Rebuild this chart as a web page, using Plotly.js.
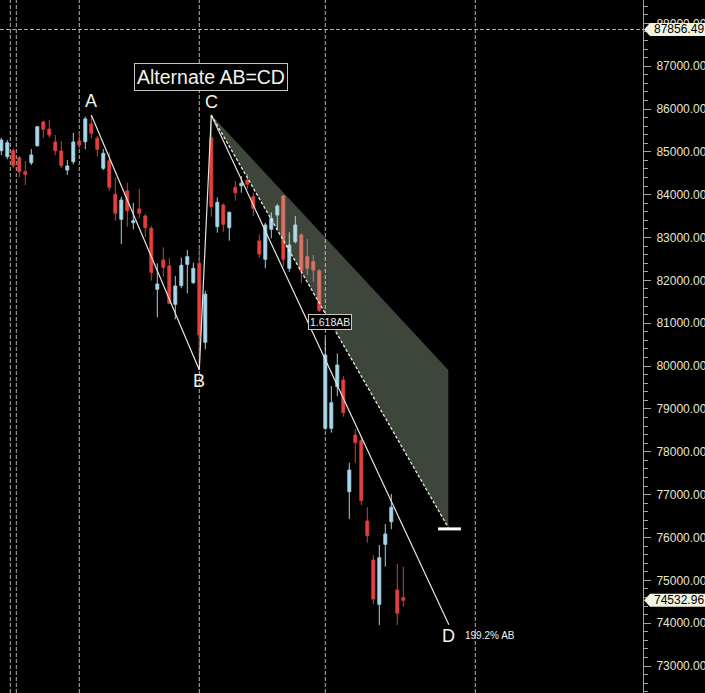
<!DOCTYPE html>
<html>
<head>
<meta charset="utf-8">
<script src="https://cdn.plot.ly/plotly-3.0.1.min.js"></script>
<style>html,body{margin:0;padding:0;background:#000;}#chart{width:705px;height:693px;}</style>
</head>
<body>
<div id="chart"></div>
<script>
// ---- candle data ----
const openP  = [85027,84887,85027,84863,84537,84747,85143,85697,85533,85230,85020,84576,84770,85253,85237,85650,85316,84616,84793,84009,83426,84086,83346,83666,83503,83215,81792,82476,82336,81442,81876,82375,81946,82399,80555,85330,83253,83759,83230,84172,84210,84343,83953,82919,82492,83192,83526,83969,82282,82903,83059,82553,82436,82226,78548,78548,79519,79675,77068,78391,78258,76384,75474,74440,75840,76367,74773,74594];
const highP  = [85330,85276,85083,84903,84786,85066,85603,85727,85743,85393,85253,84810,85447,85470,85820,85860,85370,85066,84985,84406,83953,84280,83813,84133,83549,83269,82399,82772,82515,82102,82529,82709,82413,82749,81752,85860,83939,83799,83603,84320,84436,84483,84046,83076,83346,83589,83783,83993,83122,83503,83099,82966,82592,82259,80648,79535,80298,79768,77745,78531,78368,76704,75590,75824,76314,77014,75380,75317];
const lowP   = [84926,84826,84616,84406,84226,84693,85120,85330,85330,84926,84616,84460,84709,85083,85059,85316,84887,84576,84093,83393,82849,83253,83192,83449,83006,81993,81138,82086,81442,81092,81815,81698,81916,79910,80391,83486,83113,83136,82926,83860,84046,84126,83503,82529,82282,82982,83199,82319,82203,82865,81932,82126,81969,81269,78508,78445,79301,78818,76431,77745,76757,75878,74447,73957,75317,76190,73957,74383];
const closeP = [85276,85213,84677,84537,84476,84926,85587,85526,85393,85027,84677,84670,85230,85160,85767,85433,85059,84966,84172,83566,83876,83626,83393,83566,83230,82189,81916,82305,81465,81869,82352,82553,82282,80725,81675,83720,83822,83309,83589,84046,84266,84243,83682,82616,83293,83449,83736,82492,82826,83293,82226,82282,82242,81292,80258,79145,80025,78912,77574,78211,76858,76041,74563,75527,76081,76704,74230,74533];

// ---- pattern (A, B, C, D) ----
const patternLabels = ["A", "B", "C", "D"];
const patternX = [15, 33, 35, 74.6];
const patternY = [85860, 79910, 85860, 73960];

// projection zone (C -> target range)
const zoneX = [35, 74.5, 74.5];
const zoneY = [85860, 79910, 76230];
const targetBarX = [72.8, 76.6];
const targetBarY = 76200;

// labels
const titleText = "Alternate AB=CD";
const fibLabel = "1.618AB";
const fibLabelX = 54.7;
const fibLabelY = 81040;
const dLabel = "199.2% AB";

// price tags
const highTag = 87856.49;
const lastTag = 74532.96;

// period separators (candle positions)
const separators = [1.5, 2.5, 13, 33, 54, 79];

// y ticks
const yTickVals = [73000,74000,75000,76000,77000,78000,79000,80000,81000,82000,83000,84000,85000,86000,87000,88000];

const idx = openP.map((_, i) => i);

const FONT = "Liberation Sans, Arial, sans-serif";
const pxPerUnit = 557 / 13000;        // vertical scale
const unitsPerPx = 1 / pxPerUnit;
const plotW = 643;

const traces = [
  {
    type: "candlestick",
    x: idx, open: openP, high: highP, low: lowP, close: closeP,
    increasing: { line: { color: "#9fcde4", width: 1 }, fillcolor: "#add8e6" },
    decreasing: { line: { color: "#d93b3b", width: 1 }, fillcolor: "#e2443f" },
    whiskerwidth: 0,
    hoverinfo: "skip",
    showlegend: false
  },
  {
    type: "scatter", mode: "lines",
    x: patternX, y: patternY,
    line: { color: "#e6e6dc", width: 1.2 },
    hoverinfo: "skip", showlegend: false
  }
];

const dashCol = "#b4b4aa";
const shapes = [];
separators.forEach(s => shapes.push({
  type: "line", xref: "x", yref: "paper", x0: s, x1: s, y0: 0, y1: 1,
  line: { color: dashCol, width: 1, dash: "4px,2px" }, layer: "below"
}));
shapes.push({
  type: "line", xref: "paper", yref: "y", x0: 0, x1: 1, y0: highTag, y1: highTag,
  line: { color: dashCol, width: 1, dash: "4px,2px" }, layer: "below"
});
// shaded zone
shapes.push({
  type: "path", xref: "x", yref: "y",
  path: `M ${zoneX[0]},${zoneY[0]} L ${zoneX[1]},${zoneY[1]} L ${zoneX[2]},${zoneY[2]} Z`,
  fillcolor: "rgba(205,232,195,0.30)", line: { width: 0 }, layer: "above"
});
// dashed edge
shapes.push({
  type: "line", xref: "x", yref: "y", x0: zoneX[0], y0: zoneY[0], x1: zoneX[2], y1: zoneY[2],
  line: { color: "#ecece4", width: 1.3, dash: "3px,2px" }, layer: "above"
});
// target bar
shapes.push({
  type: "line", xref: "x", yref: "y", x0: targetBarX[0], x1: targetBarX[1], y0: targetBarY, y1: targetBarY,
  line: { color: "#ffffff", width: 3 }, layer: "above"
});
// price tags
function tagPath(price) {
  const h = 6.5 * unitsPerPx;
  const tip = 644 / plotW, sh = 650 / plotW, rt = 706 / plotW;
  return `M ${tip},${price} L ${sh},${price + h} L ${rt},${price + h} L ${rt},${price - h} L ${sh},${price - h} Z`;
}
[highTag, lastTag].forEach(p => shapes.push({
  type: "path", xref: "paper", yref: "y", path: tagPath(p),
  fillcolor: "#f3f3e3", line: { width: 0 }, layer: "above"
}));

const annotations = [
  {
    x: patternX[2], y: patternY[2], xref: "x", yref: "y", yshift: 38,
    text: titleText, showarrow: false,
    font: { family: FONT, size: 19.5, color: "#f2f2ea" },
    bordercolor: "#c8c8be", borderwidth: 1, borderpad: 2, bgcolor: "#000"
  },
  {
    x: fibLabelX, y: fibLabelY, xref: "x", yref: "y",
    text: fibLabel, showarrow: false,
    font: { family: FONT, size: 10.5, color: "#f0f0e8" },
    bordercolor: "#c8c8be", borderwidth: 1, borderpad: 1, bgcolor: "#000"
  },
  {
    x: patternX[3], y: patternY[3], xref: "x", yref: "y", xshift: 14, yshift: -11,
    xanchor: "left", text: dLabel, showarrow: false,
    font: { family: FONT, size: 10, color: "#f0f0e8" }
  }
];
const labelShift = [14, -11, 13, -11];
patternLabels.forEach((t, k) => annotations.push({
  x: patternX[k], y: patternY[k], xref: "x", yref: "y", yshift: labelShift[k],
  text: t, showarrow: false,
  font: { family: FONT, size: 18, color: "#f2f2ea" }
}));
[highTag, lastTag].forEach(p => annotations.push({
  x: 652 / plotW, y: p, xref: "paper", yref: "y", xanchor: "left", yanchor: "middle",
  text: p.toFixed(2), showarrow: false,
  font: { family: FONT, size: 12, color: "#000" }
}));

const yTop = 86000 + 109 * unitsPerPx;
const yBot = 86000 - (693 - 109) * unitsPerPx;

const layout = {
  width: 705, height: 693,
  paper_bgcolor: "#000", plot_bgcolor: "#000",
  margin: { l: 0, r: 705 - plotW, t: 0, b: 0, pad: 0 },
  showlegend: false,
  dragmode: false,
  xaxis: {
    range: [-1.3 / 6, (plotW - 1.3) / 6],
    visible: false, showgrid: false, zeroline: false,
    rangeslider: { visible: false }, fixedrange: true
  },
  yaxis: {
    range: [yBot, yTop], side: "right",
    tickvals: yTickVals, tickformat: ".2f",
    ticks: "outside", ticklen: 7, tickcolor: "#a0a0a0", tickwidth: 1,
    ticklabelstandoff: 3,
    showline: true, linecolor: "#a0a0a0", linewidth: 1,
    showgrid: false, zeroline: false, fixedrange: true,
    tickfont: { family: FONT, size: 12, color: "#e6e6cc" },
    minor: { dtick: 200, tick0: 73000, ticks: "outside", ticklen: 4, tickcolor: "#a0a0a0", showgrid: false }
  },
  shapes: shapes,
  annotations: annotations
};

Plotly.newPlot("chart", traces, layout, { staticPlot: true, displayModeBar: false });
</script>
</body>
</html>
